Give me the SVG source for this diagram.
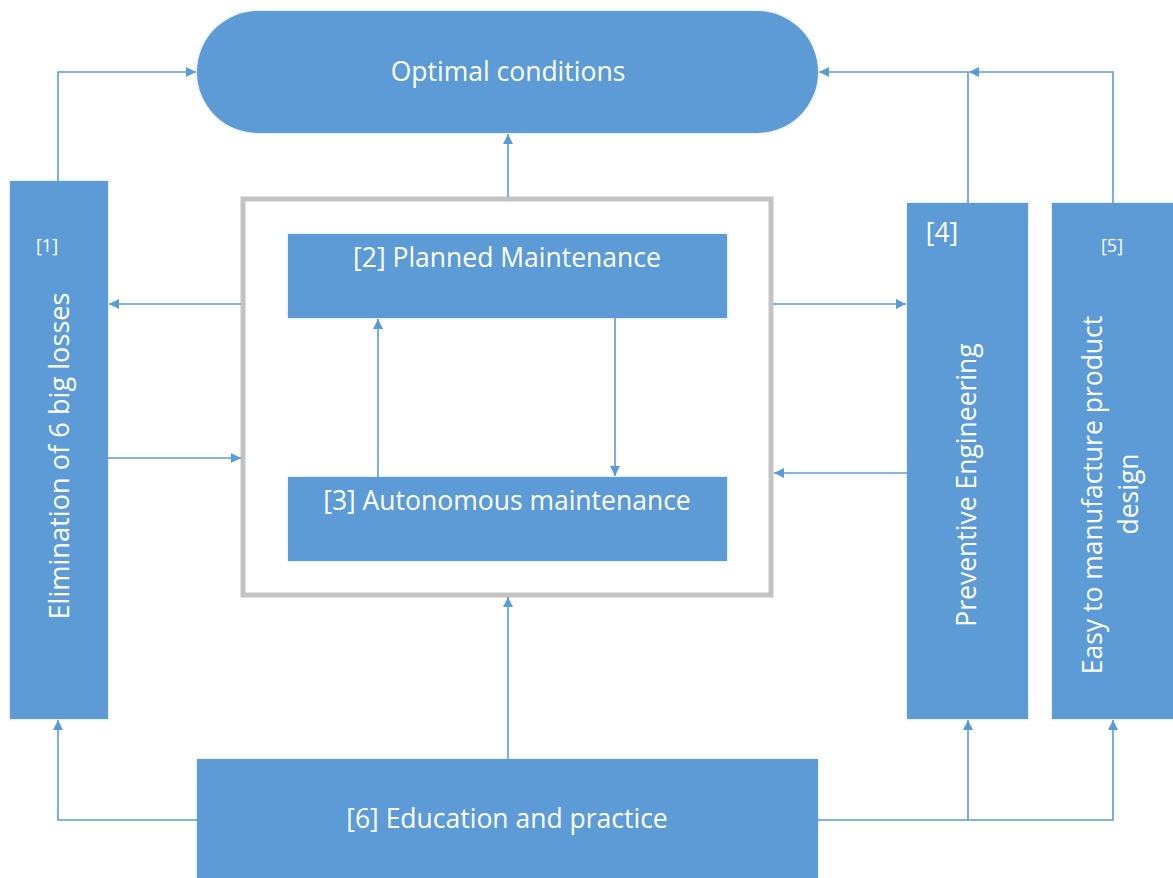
<svg xmlns="http://www.w3.org/2000/svg" width="1173" height="878" viewBox="0 0 1173 878">
  <style>
    .node { fill: #5B9BD5; filter: url(#soft); }
    .lbl { fill: #ffffff; font-family: "Open Sans", "Noto Sans", sans-serif; font-size: 26.5px; text-anchor: middle; }
    .small { font-size: 18px; }
    .big { font-size: 27.2px; }
    .conn { fill: none; stroke: #5B9BD5; stroke-width: 1.6; }
    .frame { fill: #ffffff; stroke: #c3c3c3; stroke-width: 5; }
  </style>
  <defs>
    <filter id="soft" x="-5%" y="-5%" width="110%" height="110%">
      <feDropShadow dx="0" dy="0" stdDeviation="1.5" flood-color="#5B9BD5" flood-opacity="0.35"/>
    </filter>
    <marker id="arr" viewBox="0 0 10 10" refX="10" refY="5" markerWidth="10" markerHeight="10" markerUnits="userSpaceOnUse" orient="auto">
      <path d="M0,0 L10,5 L0,10 z" fill="#5B9BD5"/>
    </marker>
  </defs>

  <rect width="1173" height="878" fill="#ffffff"/>

  <!-- container frame around maintenance pillars -->
  <g id="pillar-frame">
    <rect class="frame" x="243" y="199" width="528" height="396"/>
  </g>

  <g id="optimal-conditions">
    <rect class="node" x="197" y="11" width="621" height="122" rx="61" ry="61"/>
    <text class="lbl" x="508" y="81">Optimal conditions</text>
  </g>

  <g id="elimination-losses">
    <rect class="node" x="10" y="181" width="98" height="538"/>
    <text class="lbl small" x="47" y="252">[1]</text>
    <text class="lbl big" transform="translate(69,456) rotate(-90)">Elimination of 6 big losses</text>
  </g>

  <g id="planned-maintenance">
    <rect class="node" x="288" y="234" width="439" height="84"/>
    <text class="lbl" x="507" y="267">[2] Planned Maintenance</text>
  </g>

  <g id="autonomous-maintenance">
    <rect class="node" x="288" y="477" width="439" height="84"/>
    <text class="lbl" x="507" y="510">[3] Autonomous maintenance</text>
  </g>

  <g id="preventive-engineering">
    <rect class="node" x="907" y="203" width="121" height="516"/>
    <text class="lbl" x="942" y="242">[4]</text>
    <text class="lbl" transform="translate(976,485) rotate(-90)">Preventive Engineering</text>
  </g>

  <g id="product-design">
    <rect class="node" x="1052" y="203" width="125" height="516"/>
    <text class="lbl small" x="1112" y="252">[5]</text>
    <text class="lbl" transform="translate(1102,495) rotate(-90)">Easy to manufacture product</text>
    <text class="lbl" transform="translate(1138,494) rotate(-90)">design</text>
  </g>

  <g id="education-practice">
    <rect class="node" x="197" y="759" width="621" height="125"/>
    <text class="lbl" x="507" y="828">[6] Education and practice</text>
  </g>

  <g id="connectors">
    <path class="conn" d="M58,181 V72 H196" marker-end="url(#arr)"/>
    <path class="conn" d="M508,197 V134" marker-end="url(#arr)"/>
    <path class="conn" d="M968,203 V72 H819" marker-end="url(#arr)"/>
    <path class="conn" d="M1113,203 V72 H969" marker-end="url(#arr)"/>
    <path class="conn" d="M241,304 H109" marker-end="url(#arr)"/>
    <path class="conn" d="M108,458 H241" marker-end="url(#arr)"/>
    <path class="conn" d="M773,304 H906" marker-end="url(#arr)"/>
    <path class="conn" d="M907,473 H774" marker-end="url(#arr)"/>
    <path class="conn" d="M378,477 V319" marker-end="url(#arr)"/>
    <path class="conn" d="M615,318 V476" marker-end="url(#arr)"/>
    <path class="conn" d="M508,759 V597" marker-end="url(#arr)"/>
    <path class="conn" d="M197,820 H58 V720" marker-end="url(#arr)"/>
    <path class="conn" d="M818,820 H1113 V720" marker-end="url(#arr)"/>
    <path class="conn" d="M968,820 V720" marker-end="url(#arr)"/>
  </g>
</svg>
